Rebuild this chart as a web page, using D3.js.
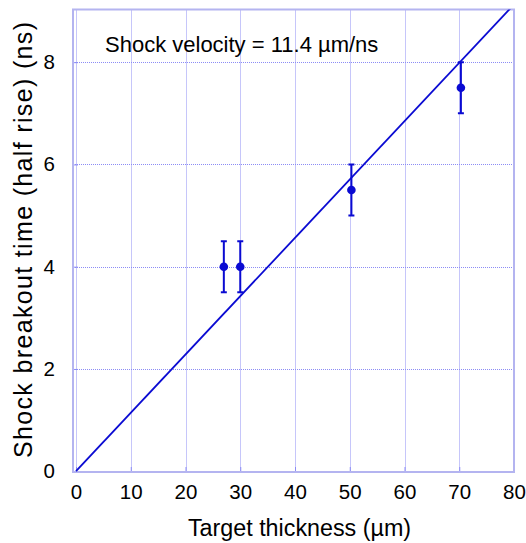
<!DOCTYPE html>
<html>
<head>
<meta charset="utf-8">
<script src="https://cdn.jsdelivr.net/npm/d3@7"></script>
<style>
  body { margin: 0; background: #fff; }
  text { font-family: "Liberation Sans", Arial, sans-serif; fill: #000; }
</style>
</head>
<body>
<div id="chart"></div>
<script>
// measured points (thickness in um, breakout time in ns, error in ns)
const thickness = [27, 30, 50.3, 70.3]
const breakout = [4.0, 4.0, 5.5, 7.5]
const errors = [0.5, 0.5, 0.5, 0.5]

// linear fit through origin
const fitX = [0, 80]
const fitSlope = 0.1141

const xTicks = [0, 10, 20, 30, 40, 50, 60, 70, 80]
const yTicks = [0, 2, 4, 6, 8]

const W = 526, H = 543
const margin = { top: 9.5, right: 12, bottom: 71, left: 73 }
const FONT = '"Liberation Sans", Arial, sans-serif'

const svg = d3.select('#chart').append('svg')
  .attr('width', W)
  .attr('height', H)

const x = d3.scaleLinear().domain([-0.55, 80]).range([margin.left, W - margin.right])
const y = d3.scaleLinear().domain([-0.015, 9.03]).range([H - margin.bottom, margin.top])

const blue = '#0a0ad2'
const gridColor = '#8c8cf5'
const crisp = v => Math.round(v) + 0.5

svg.append('clipPath').attr('id', 'plot')
  .append('rect')
  .attr('x', margin.left).attr('y', margin.top)
  .attr('width', W - margin.left - margin.right)
  .attr('height', H - margin.top - margin.bottom)

// grid
svg.append('g')
  .selectAll('line')
  .data(xTicks)
  .join('line')
  .attr('x1', d => crisp(x(d))).attr('x2', d => crisp(x(d)))
  .attr('y1', margin.top).attr('y2', H - margin.bottom)
  .attr('stroke', gridColor)
  .attr('stroke-width', 1)
  .attr('stroke-dasharray', '1,1')

svg.append('g')
  .selectAll('line')
  .data(yTicks)
  .join('line')
  .attr('x1', margin.left).attr('x2', W - margin.right)
  .attr('y1', d => crisp(y(d))).attr('y2', d => crisp(y(d)))
  .attr('stroke', gridColor)
  .attr('stroke-width', 1)
  .attr('stroke-dasharray', '1,1')

// axes (tick labels only, frame drawn below)
const xAxis = svg.append('g')
  .attr('transform', `translate(0,${H - margin.bottom})`)
  .call(d3.axisBottom(x).tickValues(xTicks).tickSize(5).tickPadding(7))
xAxis.select('.domain').remove()
xAxis.selectAll('.tick line').attr('stroke', gridColor).attr('transform', 'translate(0,-5)')
xAxis.selectAll('.tick text').attr('font-size', 20.5).style('font-family', FONT)

const yAxis = svg.append('g')
  .attr('transform', `translate(${margin.left},0)`)
  .call(d3.axisLeft(y).tickValues(yTicks).tickSize(5).tickPadding(13))
yAxis.select('.domain').remove()
yAxis.selectAll('.tick line').attr('stroke', gridColor).attr('transform', 'translate(5,0)')
yAxis.selectAll('.tick text').attr('font-size', 20.5).style('font-family', FONT)

// frame
svg.append('rect')
  .attr('x', margin.left).attr('y', margin.top)
  .attr('width', W - margin.left - margin.right)
  .attr('height', H - margin.top - margin.bottom)
  .attr('fill', 'none')
  .attr('stroke', '#b4b4f0')
  .attr('stroke-width', 2)

const plot = svg.append('g').attr('clip-path', 'url(#plot)')

// fit line
plot.append('path')
  .datum(fitX)
  .attr('d', d3.line().x(d => x(d)).y(d => y(fitSlope * d)))
  .attr('fill', 'none')
  .attr('stroke', blue)
  .attr('stroke-width', 1.8)

// error bars
const pts = thickness.map((t, i) => ({ t, v: breakout[i], e: errors[i] }))
const eb = plot.append('g').selectAll('g').data(pts).join('g')
eb.append('line')
  .attr('x1', d => x(d.t)).attr('x2', d => x(d.t))
  .attr('y1', d => y(d.v - d.e)).attr('y2', d => y(d.v + d.e))
  .attr('stroke', blue).attr('stroke-width', 2)
eb.selectAll('line.cap')
  .data(d => [d.v - d.e, d.v + d.e].map(v => ({ t: d.t, v })))
  .join('line')
  .attr('class', 'cap')
  .attr('x1', d => x(d.t) - 3).attr('x2', d => x(d.t) + 3)
  .attr('y1', d => y(d.v)).attr('y2', d => y(d.v))
  .attr('stroke', blue).attr('stroke-width', 2)
eb.append('circle')
  .attr('cx', d => x(d.t)).attr('cy', d => y(d.v))
  .attr('r', 4.3)
  .attr('fill', blue)

// annotation
svg.append('text')
  .attr('x', 105).attr('y', 51.5)
  .attr('font-size', 22)
  .text('Shock velocity = 11.4 \u00b5m/ns')

// axis labels
svg.append('text')
  .attr('x', 299.5)
  .attr('y', 535.5)
  .attr('text-anchor', 'middle')
  .attr('font-size', 23.3)
  .text('Target thickness (\u00b5m)')

svg.append('text')
  .attr('transform', `translate(32,240) rotate(-90)`)
  .attr('text-anchor', 'middle')
  .attr('font-size', 25)
  .attr('textLength', 436)
  .attr('lengthAdjust', 'spacing')
  .text('Shock breakout time (half rise) (ns)')
</script>
</body>
</html>
